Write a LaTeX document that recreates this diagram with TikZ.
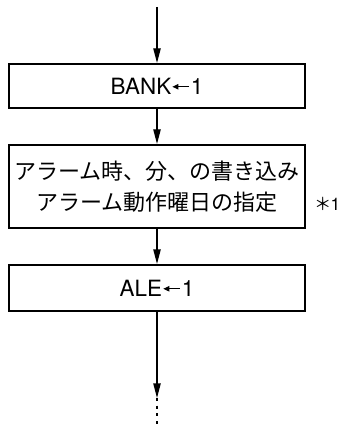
\documentclass[tikz,border=0pt]{standalone}
\usepackage{fontspec}
\setmainfont{TeX Gyre Heros}
\newfontfamily\cjk{Noto Sans CJK JP}
\usetikzlibrary{arrows.meta}
\newcommand\inlarrow{\hspace{0.5pt}\tikz[baseline=-0.33em]{\draw[line width=0.8pt,-{Triangle[length=4.5pt,width=4pt]}] (12.5pt,0)--(0pt,0);}\hspace{1pt}}
\tikzset{
  box/.style={draw,line width=1.5pt,minimum width=222pt,inner sep=0pt,align=center},
  conn/.style={line width=1pt,-{Triangle[length=11pt,width=5.5pt]}},
  latin/.style={font=\fontsize{16.8pt}{20pt}\selectfont},
  jp/.style={font=\fontsize{16.5pt}{23.3pt}\cjk},
}
\begin{document}
\begin{tikzpicture}[x=0.75pt,y=-0.75pt]
\useasboundingbox (0,0) rectangle (345,427);
\coordinate (start) at (157,7);
\node[box,latin,minimum height=33pt] (b1) at (157,86) {BANK\inlarrow1};
\node[box,jp,minimum height=62.25pt] (b2) at (157,186.5) {アラーム時、分、の書き込み\\アラーム動作曜日の指定};
\node[box,latin,minimum height=34.5pt] (b3) at (157,288) {ALE\inlarrow1};
\coordinate (end) at (157,398);
\coordinate (dotend) at (157,427);
\node[font=\fontsize{13pt}{14pt}\cjk,inner sep=0pt] (ast) at (323.5,204) {＊};
\node[font=\fontsize{13pt}{14pt}\selectfont,inner sep=0pt] (one) at (335.5,204) {1};
\draw[conn] (start) -- (b1.north);
\draw[conn] (b1.south) -- (b2.north);
\draw[conn] (b2.south) -- (b3.north);
\draw[conn] (b3.south) -- (end);
\draw[line width=1pt,dash pattern=on 2.2pt off 3.6pt] (end) -- (dotend);
\end{tikzpicture}
\end{document}
